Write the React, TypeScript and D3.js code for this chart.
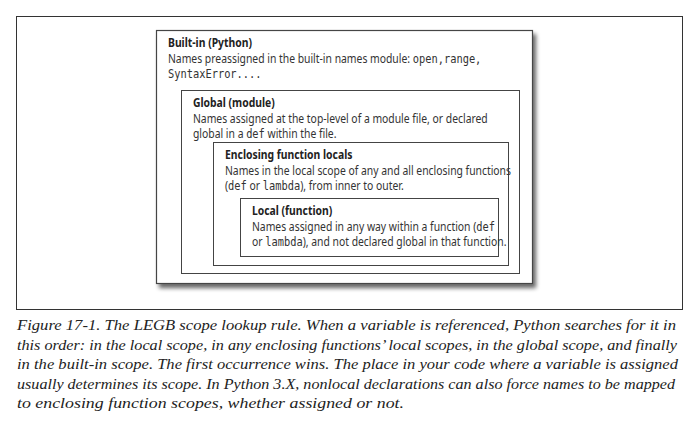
import * as d3 from "d3";

type Seg = { t: string; mono?: boolean };

const scopeTitles = ["Built-in (Python)", "Global (module)", "Enclosing function locals", "Local (function)"];
const scopeLines: Seg[][][] = [
  [
    [{ t: "Names preassigned in the built-in names module: " }, { t: "open,range,", mono: true }],
    [{ t: "SyntaxError....", mono: true }],
  ],
  [
    [{ t: "Names assigned at the top-level of a module file, or declared" }],
    [{ t: "global in a " }, { t: "def", mono: true }, { t: " within the file." }],
  ],
  [
    [{ t: "Names in the local scope of any and all enclosing functions" }],
    [{ t: "(" }, { t: "def", mono: true }, { t: " or " }, { t: "lambda", mono: true }, { t: "), from inner to outer." }],
  ],
  [
    [{ t: "Names assigned in any way within a function (" }, { t: "def", mono: true }],
    [{ t: "or " }, { t: "lambda", mono: true }, { t: "), and not declared global in that function." }],
  ],
];
// box edges [x0, y0, x1, y1]
const boxes = [
  [156, 30, 532, 283],
  [181, 90, 519, 273],
  [213, 142, 508, 265],
  [240, 198, 498, 256],
];
const caption = [
  "Figure 17-1. The LEGB scope lookup rule. When a variable is referenced, Python searches for it in",
  "this order: in the local scope, in any enclosing functions’ local scopes, in the global scope, and finally",
  "in the built-in scope. The first occurrence wins. The place in your code where a variable is assigned",
  "usually determines its scope. In Python 3.X, nonlocal declarations can also force names to be mapped",
  "to enclosing function scopes, whether assigned or not.",
];
const captionWidths = [659, 660, 661, 658, 387];

const sans = "'Noto Sans', 'DejaVu Sans', sans-serif";
const mono = "'DejaVu Sans Mono', monospace";

export default function App() {
  const W = 700, H = 427;
  const capY = d3.scaleLinear().domain([0, 1]).range([330, 349.5]);
  return (
    <svg width={W} height={H} style={{ position: "absolute", left: 0, top: 0, background: "#fff" }}>
      <rect x={0} y={0} width={W} height={H} fill="#fff" />
      <rect x={16.5} y={16.5} width={666} height={293} fill="none" stroke="#333" strokeWidth={1} />
      <defs>
        <filter id="sh" x="-5%" y="-5%" width="115%" height="115%">
          <feGaussianBlur in="SourceAlpha" stdDeviation={2} />
          <feOffset dx={3} dy={4} />
          <feComponentTransfer><feFuncA type="linear" slope={0.6} /></feComponentTransfer>
          <feMerge><feMergeNode /><feMergeNode in="SourceGraphic" /></feMerge>
        </filter>
      </defs>
      {boxes.map(([x0, y0, x1, y1], i) => (
        <g key={i}>
          <rect x={x0 + 0.5} y={y0 + 0.5} width={x1 - x0} height={y1 - y0} fill="#fff"
            stroke="#444" strokeWidth={i === 0 ? 1.2 : 1} filter={i === 0 ? "url(#sh)" : undefined} />
          <g transform={`translate(${x0 + 12},0) scale(0.83,1)`}>
            <text x={0} y={y0 + 17} fontFamily={sans} fontWeight="bold" fontSize={12.5} fill="#222">
              {scopeTitles[i]}
            </text>
            {scopeLines[i].map((line, j) => (
              <text key={j} x={0} y={y0 + 33 + j * 15} fontFamily={sans} fontSize={12.5} fill="#333">
                {line.map((s, k) => (
                  <tspan key={k} fontFamily={s.mono ? mono : sans} fontSize={s.mono ? 12.5 : 12.5}>{s.t}</tspan>
                ))}
              </text>
            ))}
          </g>
        </g>
      ))}
      {caption.map((c, i) => (
        <text key={i} x={17} y={capY(i)} fontFamily="'Liberation Serif', serif" fontStyle="italic"
          fontSize={15} fill="#222" textLength={captionWidths[i]} lengthAdjust="spacingAndGlyphs">{c}</text>
      ))}
    </svg>
  );
}
